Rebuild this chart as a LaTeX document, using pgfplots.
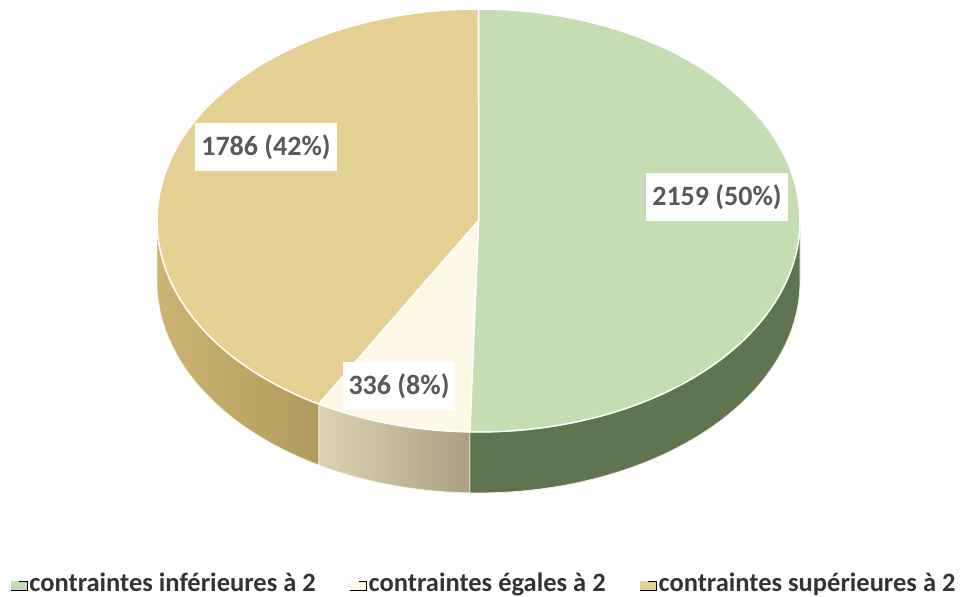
\documentclass[border=0pt]{standalone}
\usepackage{fontspec}
\setmainfont{Carlito}
\usepackage{pgfplots}
\pgfplotsset{compat=1.18}
\definecolor{gTop}{HTML}{C5DDB3}
\definecolor{gSide}{HTML}{5F7451}
\definecolor{cTop}{HTML}{FEF8E6}
\definecolor{cSideL}{HTML}{DDD3B2}
\definecolor{cSideR}{HTML}{AC9F82}
\definecolor{yTop}{HTML}{E4D092}
\definecolor{ySideL}{HTML}{CBB473}
\definecolor{ySideR}{HTML}{B19B5C}
\definecolor{labgray}{HTML}{595959}
\definecolor{leggray}{HTML}{333333}
\definecolor{edge}{HTML}{F4F0E4}
\pgfmathsetmacro{\vA}{2159}
\pgfmathsetmacro{\vB}{336}
\pgfmathsetmacro{\vC}{1786}
\pgfmathsetmacro{\tot}{\vA+\vB+\vC}
\pgfmathsetmacro{\tA}{360*(\vA/\tot)}
\pgfmathsetmacro{\tB}{\tA+360*(\vB/\tot)}
\def\cx{478.5}\def\cy{376.5}\def\ra{321.5}\def\rb{211.5}\def\dep{61}
% side band between angles #1 and #2 (clockwise from top)
\newcommand\sideplot[3]{%
\addplot[#3, forget plot, variable=\s, samples at={0,...,201}]
 ({\cx+\ra*sin((\s<100.5)*((#1)+((#2)-(#1))*\s/100)+(\s>100.5)*((#2)-((#2)-(#1))*(\s-101)/100))},
  {\cy+\rb*cos((\s<100.5)*((#1)+((#2)-(#1))*\s/100)+(\s>100.5)*((#2)-((#2)-(#1))*(\s-101)/100))-\dep*(\s>100.5)}) -- cycle;}
\newcommand\topplot[3]{%
\addplot[#3, forget plot, variable=\t, domain=#1:#2, samples=120]
 ({\cx+\ra*sin(\t)}, {\cy+\rb*cos(\t)}) -- (axis cs:\cx,\cy) -- cycle;}
\tikzset{lab/.style={fill=white,text=labgray,font=\fontsize{28}{32}\selectfont\bfseries,inner xsep=6pt,inner ysep=11pt}}
\begin{document}%
\begin{tikzpicture}
\path[use as bounding box] (0pt,0pt) rectangle (964pt,597pt);
\begin{axis}[at={(0pt,0pt)},anchor=south west,
  width=964pt,height=597pt,scale only axis,hide axis,
  xtick=\empty,ytick=\empty,
  xmin=0,xmax=964,ymin=0,ymax=597,clip=false,
  enlargelimits=false,
  legend columns=3,
  legend image code/.code={\path (0pt,-7.5pt) rectangle (16.5pt,1.5pt);\fill[#1,draw=none] (0pt,-7.5pt) rectangle (8.5pt,1.5pt);},
  legend style={draw=none,fill=none,at={(axis cs:484,14.5)},anchor=center,
    font=\fontsize{26.5}{30}\selectfont\bfseries, text=leggray,
    /tikz/every even column/.append style={column sep=32pt}},
]
% sides
\sideplot{90}{\tA}{draw=edge,line width=0.8pt,fill=gSide}
\sideplot{\tA}{\tB}{draw=edge,line width=0.8pt,left color=cSideL,right color=cSideR}
\sideplot{\tB}{270}{draw=edge,line width=0.8pt,left color=ySideL,right color=ySideR}
% tops
\topplot{0}{\tA}{fill=gTop,draw=white,line width=1.5pt}
\topplot{\tA}{\tB}{fill=cTop,draw=white,line width=1.5pt}
\topplot{\tB}{360}{fill=yTop,draw=white,line width=1.5pt}
% labels
\node[lab] at (axis cs:717,400) {2159 (50\%)};
\node[lab] at (axis cs:399,211) {336 (8\%)};
\node[lab] at (axis cs:266,450) {1786 (42\%)};
% legend
\addlegendimage{fill=gTop}
\addlegendentry{contraintes inférieures à 2}
\addlegendimage{fill=cTop}
\addlegendentry{contraintes égales à 2}
\addlegendimage{fill=yTop}
\addlegendentry{contraintes supérieures à 2}
\end{axis}
\end{tikzpicture}%
\end{document}
